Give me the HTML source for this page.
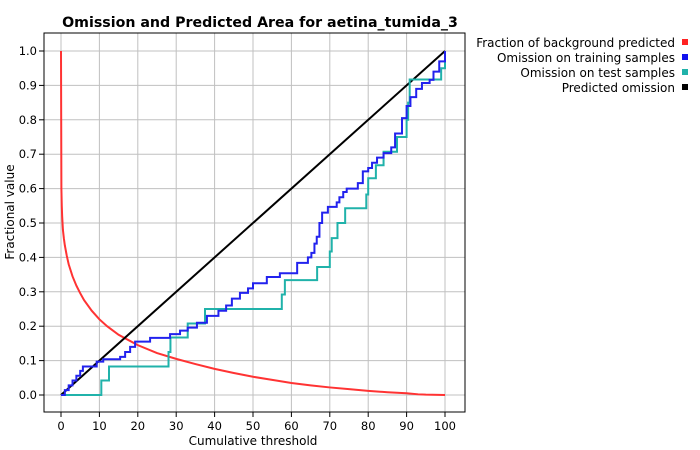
<!DOCTYPE html>
<html><head><meta charset="utf-8"><style>
body{margin:0;background:#fff;}
svg{display:block;font-family:"DejaVu Sans","Liberation Sans",sans-serif;}
</style></head><body>
<svg id="chart" width="700" height="450">
<text x="260" y="27" text-anchor="middle" font-weight="bold" font-size="14.2">Omission and Predicted Area for aetina_tumida_3</text>
<g id="grid"></g>
<g id="axes"></g>
<g id="series"></g>
<rect x="44" y="33" width="421" height="379" fill="none" stroke="#000" stroke-width="1"/>
<text x="253" y="445" text-anchor="middle" font-size="12">Cumulative threshold</text>
<text transform="translate(14,212) rotate(-90)" text-anchor="middle" font-size="12">Fractional value</text>
<g id="legend"></g>
</svg>
<script>
const xTicks=[0,10,20,30,40,50,60,70,80,90,100];
const yTicks=[0,0.1,0.2,0.3,0.4,0.5,0.6,0.7,0.8,0.9,1.0];
const bgX=[0,0.05,0.1,0.2,0.3,0.5,0.75,1,1.5,2,3,4,5,6,8,10,12,15,20,25,30,35,40,45,50,55,60,65,70,75,80,85,90,93,95,100];
const bgY=[1.0,0.8,0.6,0.55,0.52,0.48,0.455,0.435,0.405,0.38,0.345,0.318,0.296,0.276,0.245,0.22,0.2,0.175,0.145,0.122,0.105,0.09,0.076,0.064,0.053,0.044,0.035,0.028,0.022,0.017,0.012,0.008,0.005,0.002,0.001,0.0];
const trainX=[0,1,2,3,4,5,5.7,9.3,11,15.4,16.7,18,19.3,23.2,28.4,31,33,35.4,38,41,43,44.5,46.6,48.7,50,53.6,54,57,61.5,64.3,65.2,66,66.6,67.3,68,69.5,71.8,72.5,73.5,74.4,77.3,78.6,80,81,82.3,84,86,87,88.8,90,91,92.5,94,96,97,98.5,100];
const trainY=[0,0.014,0.028,0.042,0.056,0.07,0.083,0.097,0.104,0.111,0.125,0.14,0.155,0.166,0.177,0.187,0.196,0.21,0.23,0.245,0.26,0.28,0.297,0.31,0.325,0.343,0.343,0.354,0.384,0.4,0.413,0.44,0.46,0.5,0.53,0.547,0.56,0.575,0.59,0.6,0.616,0.65,0.66,0.675,0.69,0.703,0.72,0.76,0.805,0.84,0.866,0.89,0.907,0.916,0.94,0.97,1.0];
const testX=[0,10.5,12.5,28,28.5,33,37.5,57.5,58.3,66.7,70,70.5,72,74,79.5,80,82,84,87.5,90,90.4,90.8,99,100];
const testY=[0,0.042,0.083,0.125,0.167,0.208,0.25,0.292,0.334,0.372,0.417,0.456,0.5,0.543,0.583,0.63,0.668,0.707,0.75,0.8,0.85,0.917,0.95,1.0];
const predX=[0,100];
const predY=[0,1];
const NS="http://www.w3.org/2000/svg";
const sx=v=>61+v*3.84, sy=v=>395-v*344;
function mk(tag,attrs,parent){const e=document.createElementNS(NS,tag);for(const k in attrs)e.setAttribute(k,attrs[k]);parent.appendChild(e);return e;}
const grid=document.getElementById('grid'),axes=document.getElementById('axes'),series=document.getElementById('series'),legend=document.getElementById('legend');
xTicks.forEach(t=>{
  const l=mk('line',{x1:sx(t),x2:sx(t),y1:33,y2:412,stroke:'#c0c0c0','stroke-width':1},grid);
  
  
  mk('line',{x1:sx(t),x2:sx(t),y1:412,y2:417,stroke:'#000'},axes);
  const tx=mk('text',{x:sx(t),y:430,'text-anchor':'middle','font-size':11.5},axes);
  tx.textContent=t;
  
  
});
yTicks.forEach(t=>{
  const l=mk('line',{x1:44,x2:465,y1:sy(t),y2:sy(t),stroke:'#c0c0c0','stroke-width':1},grid);
  
  
  mk('line',{x1:39,x2:44,y1:sy(t),y2:sy(t),stroke:'#000'},axes);
  const tx=mk('text',{x:37,y:sy(t)+4,'text-anchor':'end','font-size':11.5},axes);
  tx.textContent=t.toFixed(1);
  
  
});
function linePath(xs,ys){return xs.map((x,i)=>(i?'L':'M')+sx(x)+' '+sy(ys[i])).join(' ');}
function stepPath(xs,ys){let d='M'+sx(xs[0])+' '+sy(ys[0]);for(let i=1;i<xs.length;i++){d+=' L'+sx(xs[i])+' '+sy(ys[i-1])+' L'+sx(xs[i])+' '+sy(ys[i]);}return d;}
const p1=mk('path',{d:linePath(bgX,bgY),fill:'none',stroke:'#ff3333','stroke-width':2},series);


const p2=mk('path',{d:linePath(predX,predY),fill:'none',stroke:'#000','stroke-width':2},series);


const p3=mk('path',{d:stepPath(testX,testY),fill:'none',stroke:'#20b2aa','stroke-width':2},series);


const p4=mk('path',{d:stepPath(trainX,trainY),fill:'none',stroke:'#2222ee','stroke-width':2},series);


const legendLabels=['Fraction of background predicted','Omission on training samples','Omission on test samples','Predicted omission'];
const legendColors=['#ff2222','#1111ee','#20b2aa','#000'];
legendLabels.forEach((s,i)=>{
  const y=47+i*15;
  const t=mk('text',{x:675,y:y,'text-anchor':'end','font-size':12},legend);
  t.textContent=s;
  
  
  const r=mk('rect',{x:682,y:y-8,width:6,height:6,fill:legendColors[i]},legend);
  
  
});
</script>
</body></html>
